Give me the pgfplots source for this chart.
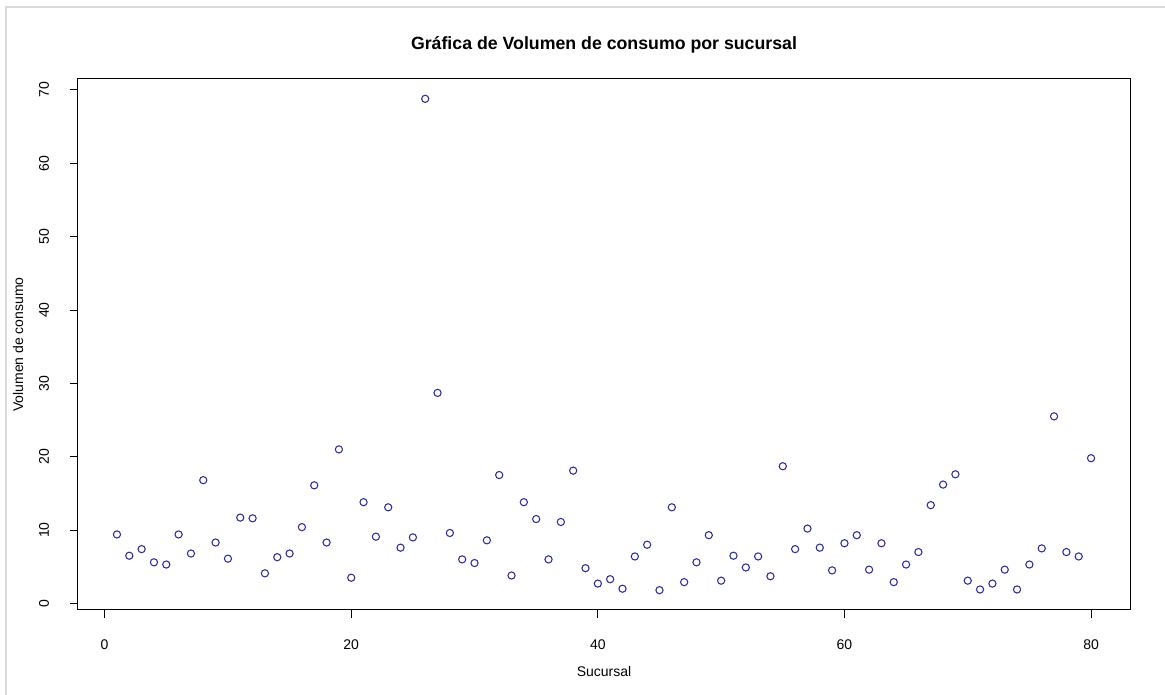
\documentclass[border=0pt]{standalone}
\usepackage{pgfplots}
\pgfplotsset{compat=1.18}
\usepackage{fontspec}
\setmainfont{Liberation Sans}
\definecolor{ptblue}{RGB}{45,45,170}
\definecolor{framegray}{RGB}{218,218,218}
\begin{document}
\begin{tikzpicture}
\begin{axis}[
  scale only axis,
  width=789pt, height=398.25pt,
  xmin=-2.16, xmax=83.16, ymin=-0.9, ymax=71.5,
  xtick={0,20,40,60,80}, ytick={0,10,20,30,40,50,60,70},
  xtick pos=bottom, ytick pos=left,
  tick align=outside, major tick length=6pt,
  tick style={black, line width=0.75pt},
  axis line style={black, line width=0.75pt},
  minor tick num=0,
  /pgf/number format/assume math mode=true,
  ticklabel style={font=\fontsize{10.5}{12}\selectfont},
  xticklabel style={anchor=center, yshift=-19.9pt},
  yticklabel style={rotate=90, anchor=center, yshift=19.5pt},
  clip=false,
]
\addplot[only marks, mark=o, mark size=2.7pt, mark options={ptblue, line width=0.8pt}] coordinates {
(1,9.4) (2,6.5) (3,7.4) (4,5.6) (5,5.3) (6,9.4) (7,6.8) (8,16.8) (9,8.3) (10,6.1)
(11,11.7) (12,11.6) (13,4.1) (14,6.3) (15,6.8) (16,10.4) (17,16.1) (18,8.3) (19,21.0) (20,3.5)
(21,13.8) (22,9.1) (23,13.1) (24,7.6) (25,9.0) (26,68.8) (27,28.7) (28,9.6) (29,6.0) (30,5.5)
(31,8.6) (32,17.5) (33,3.8) (34,13.8) (35,11.5) (36,6.0) (37,11.1) (38,18.1) (39,4.8) (40,2.7)
(41,3.3) (42,2.0) (43,6.4) (44,8.0) (45,1.8) (46,13.1) (47,2.9) (48,5.6) (49,9.3) (50,3.1)
(51,6.5) (52,4.9) (53,6.4) (54,3.7) (55,18.7) (56,7.4) (57,10.2) (58,7.6) (59,4.5) (60,8.2)
(61,9.3) (62,4.6) (63,8.2) (64,2.9) (65,5.3) (66,7.0) (67,13.4) (68,16.2) (69,17.6) (70,3.1)
(71,1.9) (72,2.7) (73,4.6) (74,1.9) (75,5.3) (76,7.5) (77,25.5) (78,7.0) (79,6.4) (80,19.8)
};
\end{axis}
\path[use as bounding box] (-58.5pt,-63.75pt) rectangle (815.25pt,457.5pt);
\draw[framegray, line width=1.5pt] (-54pt,-63.75pt) -- (-54pt,452.25pt) -- (815.25pt,452.25pt);
\node[font=\bfseries\fontsize{13.3}{15}\selectfont] at (394.5pt,423.75pt) {Gráfica de Volumen de consumo por sucursal};
\node[font=\fontsize{10.5}{12}\selectfont] at (394.5pt,-46.5pt) {Sucursal};
\node[font=\fontsize{10.5}{12}\selectfont, rotate=90] at (-45pt,199.1pt) {Volumen de consumo};
\end{tikzpicture}
\end{document}
